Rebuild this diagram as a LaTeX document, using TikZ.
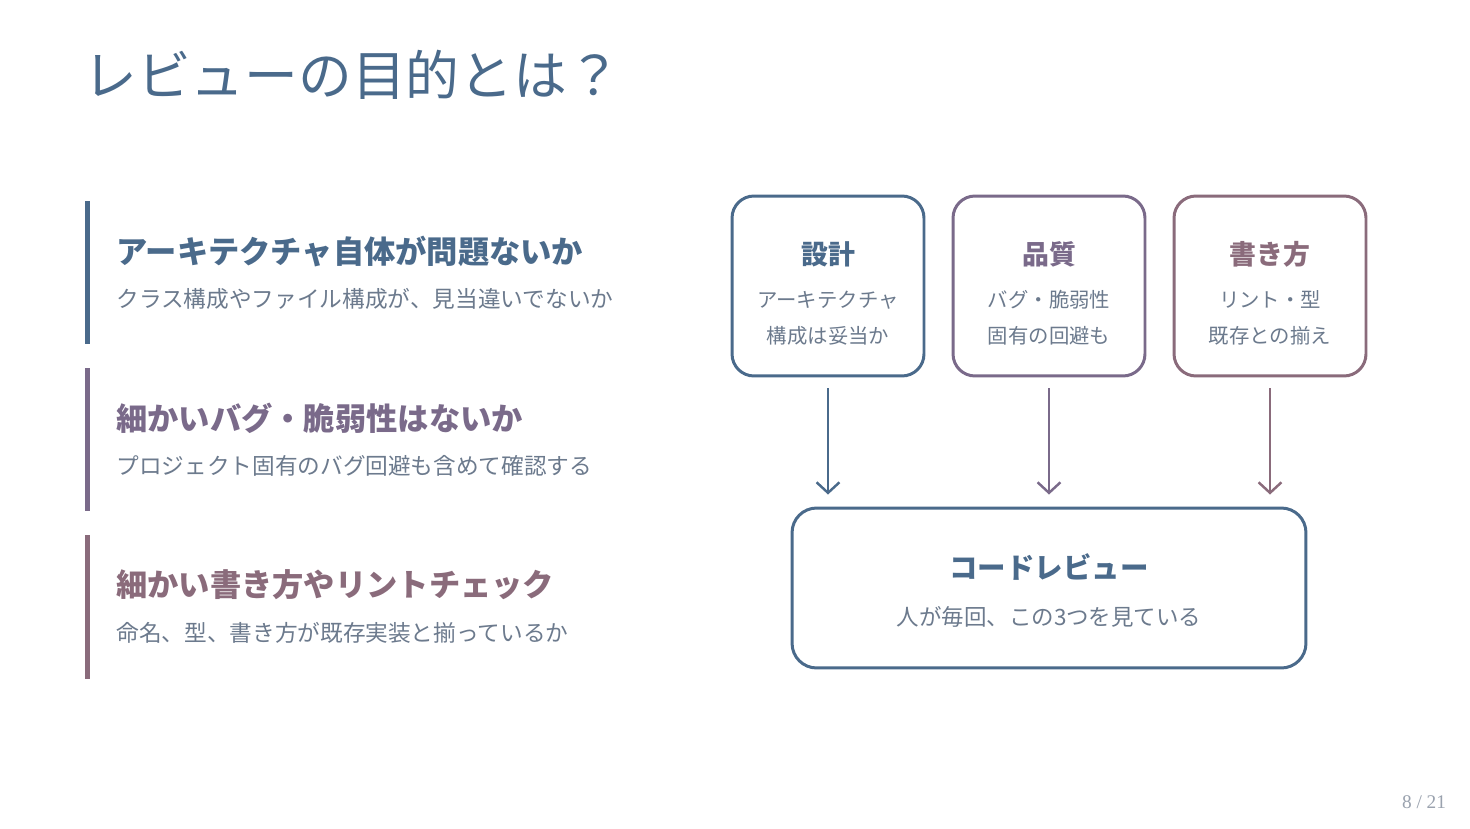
\documentclass[tikz,border=0pt]{standalone}
\usepackage{fontspec}
\setmainfont{Noto Sans CJK JP}
\newfontfamily\numfont{Liberation Serif}
\usepackage{tikz}
\usetikzlibrary{arrows.meta}
\definecolor{bg}{HTML}{FFFFFF}
\definecolor{slate}{HTML}{4A6A8B}
\definecolor{plum}{HTML}{7A6A8A}
\definecolor{mauve}{HTML}{8A6B7B}
\definecolor{muted}{HTML}{6C7A8D}
\definecolor{pagenum}{HTML}{9AA2AE}
\tikzset{
  title/.style={anchor=west, inner sep=0pt, text=slate, font=\fontsize{30.6}{35}\selectfont},
  head/.style={anchor=west, inner sep=0pt, font=\fontsize{17.8}{21}\selectfont\bfseries},
  note/.style={anchor=west, inner sep=0pt, text=muted, font=\fontsize{12.9}{15}\selectfont},
  card/.style={draw, rounded corners=12.5pt, line width=1.7pt, minimum width=3.84cm, minimum height=3.6cm},
  cardhead/.style={inner sep=0pt, font=\fontsize{15.3}{18}\selectfont\bfseries},
  cardtext/.style={inner sep=0pt, align=center, text=muted, font=\fontsize{11.6}{20.4}\selectfont},
  flow/.style={line width=1.4pt, -{Straight Barb[length=6pt,width=13pt]}, shorten <=0.22cm, shorten >=0.24cm},
}

\begin{document}
\begin{tikzpicture}[x=0.02cm, y=-0.02cm]
  \useasboundingbox[fill=bg] (0,0) rectangle (1470,828);
  \node[title] (ttl) at (83,75) {レビューの目的とは？};

  % left column
  \fill[slate] (85,201) rectangle (90,344);
  \fill[plum] (85,368) rectangle (90,511);
  \fill[mauve] (85,535) rectangle (90,679);
  \node[head, text=slate] (h1) at (116,252) {アーキテクチャ自体が問題ないか};
  \node[note] (n1) at (116,299) {クラス構成やファイル構成が、見当違いでないか};
  \node[head, text=plum] (h2) at (116,418) {細かいバグ・脆弱性はないか};
  \node[note] (n2) at (116,466) {プロジェクト固有のバグ回避も含めて確認する};
  \node[head, text=mauve] (h3) at (116,585) {細かい書き方やリントチェック};
  \node[note] (n3) at (116,633) {命名、型、書き方が既存実装と揃っているか};

  % three views
  \node[card, draw=slate] (d1) at (828,286) {};
  \node[cardhead, text=slate] (d1t) at (828,254) {設計};
  \node[cardtext] (d1s) at (828,318) {アーキテクチャ\\構成は妥当か};
  \node[card, draw=plum] (d2) at (1049,286) {};
  \node[cardhead, text=plum] (d2t) at (1049,254) {品質};
  \node[cardtext] (d2s) at (1049,318) {バグ・脆弱性\\固有の回避も};
  \node[card, draw=mauve] (d3) at (1270,286) {};
  \node[cardhead, text=mauve] (d3t) at (1270,254) {書き方};
  \node[cardtext] (d3s) at (1270,318) {リント・型\\既存との揃え};

  % code review
  \node[card, draw=slate, rounded corners=14pt, minimum width=10.28cm, minimum height=3.2cm] (rv) at (1049,588) {};
  \node[cardhead, text=slate, font=\fontsize{16.2}{19}\selectfont\bfseries] (rvt) at (1049,567) {コードレビュー};
  \node[cardtext, font=\fontsize{12.8}{15}\selectfont] (rvs) at (1049,617) {人が毎回、この3つを見ている};

  \draw[flow, slate] (d1.south) -- (d1.south |- rv.north);
  \draw[flow, plum] (d2.south) -- (d2.south |- rv.north);
  \draw[flow, mauve] (d3.south) -- (d3.south |- rv.north);

  \node[text=pagenum, font=\numfont\fontsize{11}{13}\selectfont] (pg) at (1424,802) {8 / 21};
\end{tikzpicture}
\end{document}
